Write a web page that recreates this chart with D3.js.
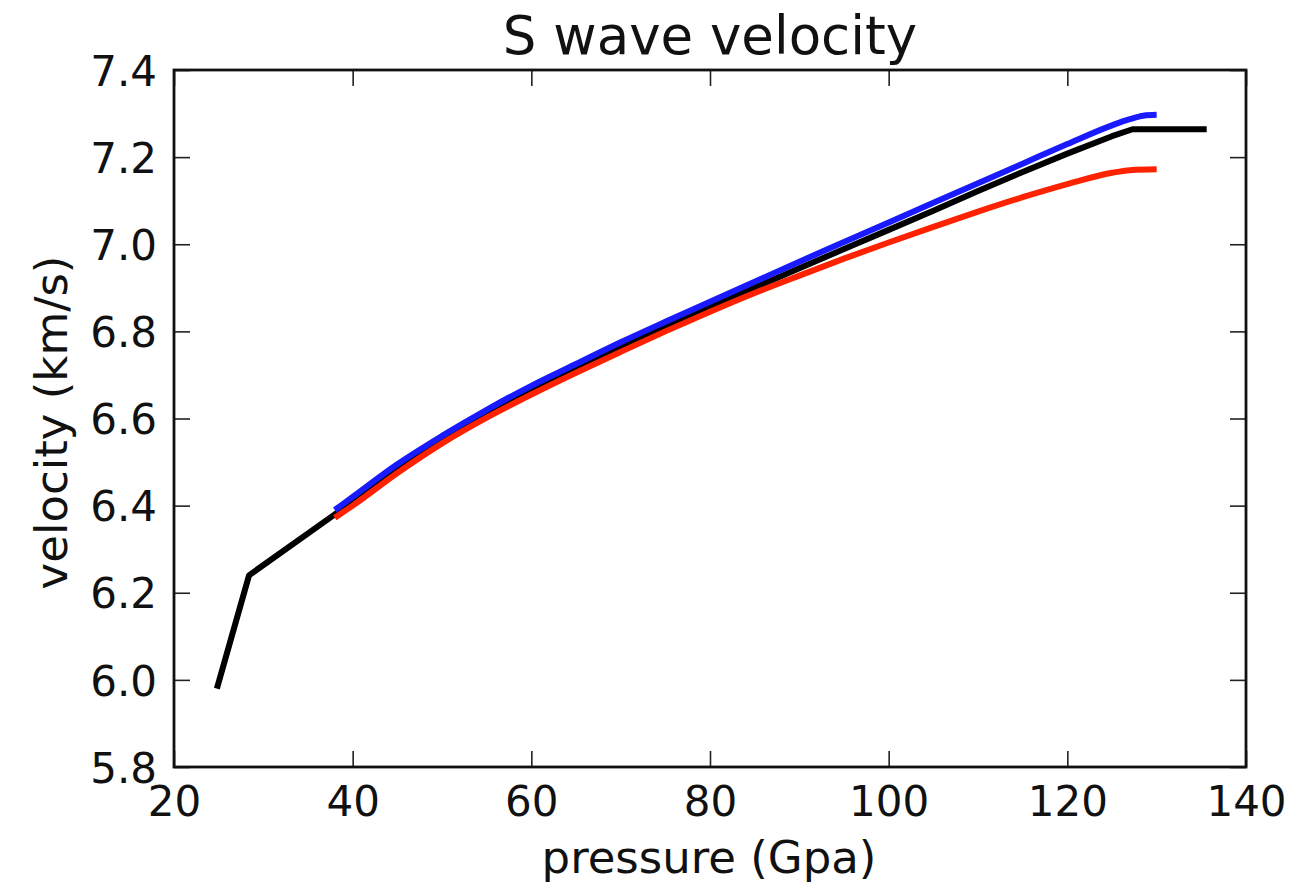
<!DOCTYPE html>
<html>
<head>
<meta charset="utf-8">
<script src="https://cdn.jsdelivr.net/npm/d3@7"></script>
<style>
    body { margin: 0; background: #ffffff; }
    #graph text { font-family: 'DejaVu Sans', sans-serif; fill: #111111; }
</style>
</head>
<body>
<div id="graph"></div>
<script>

// The data... (pressure in GPa, velocity in km/s)
var blackPressure = [ 24.8, 28.4, 38, 40, 45, 50, 55, 60, 65, 70, 75, 80, 85, 90, 95, 100, 105, 110, 115, 120, 125, 127.3, 135.6 ];
var blackVelocity = [ 5.98, 6.24, 6.38, 6.41, 6.488, 6.553, 6.612, 6.667, 6.716, 6.765, 6.811, 6.856, 6.90, 6.945, 6.989, 7.033, 7.077, 7.122, 7.166, 7.208, 7.248, 7.264, 7.264 ];

var bluePressure  = [ 38, 40, 45, 50, 55, 60, 65, 70, 75, 80, 85, 90, 95, 100, 105, 110, 115, 120, 125, 127, 128.5, 130 ];
var blueVelocity  = [ 6.39, 6.42, 6.495, 6.56, 6.62, 6.675, 6.725, 6.775, 6.822, 6.868, 6.914, 6.96, 7.005, 7.05, 7.095, 7.14, 7.185, 7.23, 7.273, 7.287, 7.295, 7.297 ];

var redPressure   = [ 38, 40, 45, 50, 55, 60, 65, 70, 75, 80, 85, 90, 95, 100, 105, 110, 115, 120, 125, 127, 130 ];
var redVelocity   = [ 6.372, 6.40, 6.475, 6.543, 6.602, 6.655, 6.705, 6.753, 6.80, 6.845, 6.888, 6.928, 6.967, 7.004, 7.04, 7.075, 7.108, 7.138, 7.164, 7.17, 7.172 ];

var xTicks = [ 20, 40, 60, 80, 100, 120, 140 ];
var yTicks = [ 5.8, 6.0, 6.2, 6.4, 6.6, 6.8, 7.0, 7.2, 7.4 ];

var titleText  = 'S wave velocity';
var xLabelText = 'pressure (Gpa)';
var yLabelText = 'velocity (km/s)';

function D3App ()
{
    var margin = {
            top:    70,
            right:  65,
            bottom: 123,
            left:   174
    };

    var fullWidth  = 1311;
    var fullHeight = 890;
    var width  = fullWidth - margin.left - margin.right;
    var height = fullHeight - margin.top - margin.bottom;

    var tickFont  = 42;
    var labelFont = 45;
    var titleFont = 53;

    var svg = d3.select ('#graph').append ('svg')
                .attr ('width', fullWidth)
                .attr ('height', fullHeight);

    var g = svg.append ('g')
               .attr ('transform', 'translate(' + margin.left + ',' + margin.top + ')');

    var xScale = d3.scaleLinear ()
                   .domain ( [ 20, 140 ] )
                   .range ( [ 0, width ] );

    var yScale = d3.scaleLinear ()
                   .domain ( [ 5.8, 7.4 ] )
                   .range ( [ height, 0 ] );

    // zip pressure/velocity arrays
    function pairs (xs, ys)
    {
        return xs.map (function (d, i) { return [ d, ys[i] ]; });
    }

    var series = [
        { data: pairs (blackPressure, blackVelocity), colour: '#000000', curve: d3.curveLinear },
        { data: pairs (redPressure,   redVelocity),   colour: '#ff2200', curve: d3.curveMonotoneX },
        { data: pairs (bluePressure,  blueVelocity),  colour: '#1a1aff', curve: d3.curveMonotoneX }
    ];

    series.forEach (function (s)
    {
        var line = d3.line ()
                     .x (function (d) { return xScale (d[0]); })
                     .y (function (d) { return yScale (d[1]); })
                     .curve (s.curve);

        g.append ('path')
         .datum (s.data)
         .attr ('d', line)
         .attr ('fill', 'none')
         .attr ('stroke', s.colour)
         .attr ('stroke-width', 6)
         .attr ('stroke-linejoin', 'round')
         .attr ('stroke-linecap', 'butt');
    });

    // Axes: ticks point inward on all four sides (matplotlib style)
    var tickLen = 16;

    var xBottom = d3.axisBottom (xScale).tickValues (xTicks).tickSizeInner (-tickLen).tickSizeOuter (0).tickPadding (19);
    var xTop    = d3.axisTop (xScale).tickValues (xTicks).tickSizeInner (-tickLen).tickSizeOuter (0).tickFormat ('');
    var yLeft   = d3.axisLeft (yScale).tickValues (yTicks).tickSizeInner (-tickLen).tickSizeOuter (0).tickPadding (17)
                    .tickFormat (d3.format ('.1f'));
    var yRight  = d3.axisRight (yScale).tickValues (yTicks).tickSizeInner (-tickLen).tickSizeOuter (0).tickFormat ('');

    var axB = g.append ('g').attr ('transform', 'translate(0,' + height + ')').call (xBottom);
    var axT = g.append ('g').call (xTop);
    var axL = g.append ('g').call (yLeft);
    var axR = g.append ('g').attr ('transform', 'translate(' + width + ',0)').call (yRight);

    [ axB, axT, axL, axR ].forEach (function (ax)
    {
        ax.select ('.domain').remove ();
        ax.selectAll ('line').attr ('stroke', '#222222').attr ('stroke-width', 1.6);
        ax.selectAll ('text')
          .attr ('font-family', 'DejaVu Sans, sans-serif')
          .attr ('font-size', tickFont + 'px')
          .attr ('fill', '#111111');
    });

    axL.selectAll ('text').attr ('dy', '0.36em');
    axB.selectAll ('text').attr ('dy', '0.72em');

    // frame
    g.append ('rect')
     .attr ('x', 0)
     .attr ('y', 0)
     .attr ('width', width)
     .attr ('height', height)
     .attr ('fill', 'none')
     .attr ('stroke', '#111111')
     .attr ('stroke-width', 2.8);

    // title and axis labels
    svg.append ('text')
       .attr ('x', margin.left + width / 2)
       .attr ('y', 54)
       .attr ('text-anchor', 'middle')
       .attr ('font-size', titleFont + 'px')
       .text (titleText);

    svg.append ('text')
       .attr ('x', margin.left + width / 2 - 1)
       .attr ('y', 873)
       .attr ('text-anchor', 'middle')
       .attr ('font-size', labelFont + 'px')
       .text (xLabelText);

    svg.append ('text')
       .attr ('transform', 'translate(67,' + (margin.top + height / 2 + 4) + ') rotate(-90)')
       .attr ('text-anchor', 'middle')
       .attr ('font-size', labelFont + 'px')
       .text (yLabelText);
}

D3App ();

</script>
</body>
</html>
